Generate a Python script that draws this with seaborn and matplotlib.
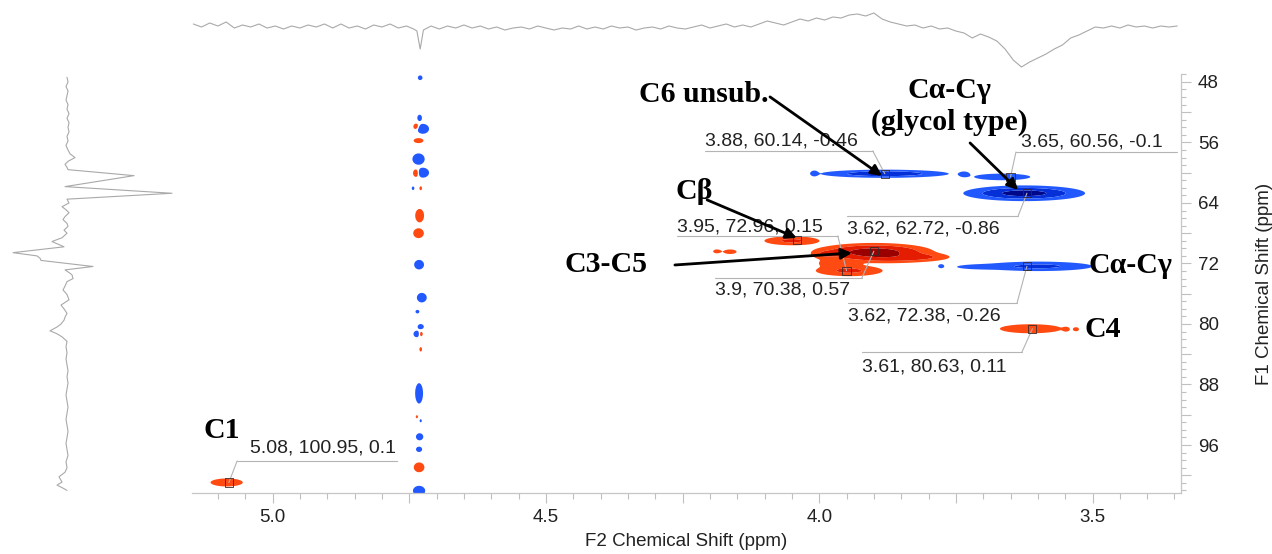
import numpy as np
import pandas as pd
import matplotlib
matplotlib.use("Agg")
import matplotlib.pyplot as plt
from matplotlib.ticker import MultipleLocator, FuncFormatter
import seaborn as sns

# ---------------- 2D HSQC cross peaks ----------------
# F2 (1H) shift, F1 (13C) shift, half-widths and signed intensity of each contour blob
peak_h = [3.880, 4.009, 3.735, 3.665, 3.625,
          4.050, 4.187, 4.163,
          3.900, 3.870, 3.815, 3.990, 3.945, 3.965,
          3.600, 3.705, 3.777,
          3.613, 3.548, 3.530,
          5.084]
peak_c = [60.14, 60.10, 60.20, 60.56, 62.72,
          69.00, 70.40, 70.45,
          70.50, 71.30, 71.15, 70.80, 72.96, 71.95,
          72.38, 72.45, 72.35,
          80.63, 80.70, 80.70,
          100.95]
peak_wh = [0.050, 0.004, 0.006, 0.033, 0.043,
           0.028, 0.005, 0.008,
           0.045, 0.040, 0.030, 0.012, 0.034, 0.022,
           0.048, 0.028, 0.004,
           0.035, 0.004, 0.004,
           0.019]
peak_wc = [0.23, 0.22, 0.22, 0.28, 0.40,
           0.33, 0.18, 0.20,
           0.50, 0.35, 0.30, 0.35, 0.40, 0.35,
           0.30, 0.20, 0.20,
           0.37, 0.20, 0.20,
           0.34]
peak_int = [-0.46, -0.12, -0.10, -0.10, -0.86,
            0.15, 0.08, 0.09,
            0.57, 0.14, 0.12, 0.10, 0.15, 0.10,
            -0.26, -0.09, -0.07,
            0.11, 0.06, 0.06,
            0.10]

# residual HDO stripe near 4.73 ppm
hdo_h = [4.730, 4.731, 4.737, 4.725, 4.733, 4.733, 4.737, 4.725, 4.743, 4.729,
         4.731, 4.733, 4.732, 4.727, 4.735, 4.729, 4.736, 4.729, 4.729, 4.732,
         4.736, 4.729, 4.731, 4.732, 4.732, 4.732]
hdo_c = [47.45, 52.76, 53.91, 54.20, 55.76, 58.20, 60.05, 60.00, 62.06, 62.06,
         65.68, 68.00, 72.16, 76.52, 78.37, 80.36, 81.32, 81.32, 83.35, 89.17,
         92.26, 92.79, 94.91, 96.57, 98.95, 102.05]
hdo_wh = [0.003, 0.003, 0.004, 0.006, 0.006, 0.006, 0.004, 0.006, 0.002, 0.002,
          0.005, 0.006, 0.005, 0.005, 0.003, 0.004, 0.004, 0.003, 0.002, 0.004,
          0.002, 0.002, 0.004, 0.004, 0.006, 0.006]
hdo_wc = [0.22, 0.30, 0.30, 0.35, 0.22, 0.40, 0.35, 0.35, 0.20, 0.22,
          0.55, 0.40, 0.35, 0.35, 0.20, 0.25, 0.28, 0.28, 0.25, 0.75,
          0.20, 0.20, 0.28, 0.25, 0.40, 0.35]
hdo_int = [-0.08, -0.08, 0.08, -0.17, 0.09, -0.17, 0.10, -0.17, -0.06, 0.06,
           0.11, 0.11, -0.15, -0.15, -0.06, -0.08, -0.10, 0.07, 0.06, -0.15,
           0.05, -0.05, -0.12, -0.08, 0.11, -0.17]

# ---------------- 1D projections ----------------
top_ppm = [5.145, 5.130, 5.115, 5.100, 5.085, 5.070, 5.055, 5.040, 5.025, 5.010,
           4.995, 4.980, 4.965, 4.950, 4.935, 4.920, 4.905, 4.890, 4.875, 4.860,
           4.845, 4.830, 4.815, 4.800, 4.785, 4.770, 4.755, 4.742, 4.736, 4.730,
           4.724, 4.710, 4.695, 4.680, 4.665, 4.650, 4.635, 4.620, 4.605, 4.590,
           4.575, 4.560, 4.545, 4.530, 4.515, 4.500, 4.485, 4.470, 4.455, 4.440,
           4.425, 4.410, 4.395, 4.380, 4.365, 4.350, 4.335, 4.320, 4.305, 4.290,
           4.275, 4.260, 4.245, 4.230, 4.215, 4.200, 4.185, 4.170, 4.155, 4.140,
           4.125, 4.110, 4.095, 4.080, 4.065, 4.050, 4.035, 4.020, 4.005, 3.990,
           3.975, 3.960, 3.945, 3.930, 3.915, 3.900, 3.885, 3.870, 3.855, 3.840,
           3.825, 3.810, 3.795, 3.780, 3.765, 3.750, 3.735, 3.720, 3.705, 3.690,
           3.675, 3.660, 3.645, 3.630, 3.615, 3.600, 3.585, 3.570, 3.555, 3.540,
           3.525, 3.510, 3.495, 3.480, 3.465, 3.450, 3.435, 3.420, 3.405, 3.390,
           3.375, 3.360, 3.345]
top_int = [3, 0, 4, 1, 5, -1, 2, 0, 3, -1,
           1, -2, 1, -1, 2, 0, 3, -1, 3, -1,
           1, -2, 2, 0, 3, -1, 1, -2, -4, -22,
           -3, 1, -2, 1, -1, 2, -1, 1, -2, 0,
           -3, -1, 0, -2, 1, -1, -3, -1, -2, 1,
           -2, 0, -2, 1, -1, 0, -3, -1, 0, -2,
           1, -1, -2, 0, 2, -1, 1, 3, 0, 2,
           0, 3, 6, 4, 2, 5, 8, 6, 9, 7,
           10, 9, 12, 13, 11, 14, 8, 5, 3, 1,
           2, -1, 1, -2, -1, -4, -6, -11, -7, -10,
           -14, -22, -33, -40, -35, -31, -27, -22, -18, -11,
           -8, -4, 0, -1, 1, -1, 2, 0, 1, -1,
           1, 0, 1]

left_ppm = [47.4, 48.0, 48.6, 49.2, 49.8, 50.4, 51.0, 51.6, 52.2, 52.8,
            53.4, 54.0, 54.6, 55.2, 55.8, 56.4, 57.0, 57.5, 58.0, 58.5,
            58.9, 59.3, 59.6, 60.39, 61.84, 62.72, 63.5, 64.0, 64.5, 64.9,
            65.3, 65.8, 66.2, 66.7, 67.1, 67.6, 68.0, 68.6, 69.1, 69.8,
            70.57, 71.0, 71.3, 71.6, 72.4, 72.85, 73.2, 73.5, 74.0, 74.4,
            75.0, 75.5, 76.1, 76.8, 77.5, 78.0, 78.6, 79.1, 79.5, 80.0,
            80.4, 80.9, 81.3, 81.7, 82.3, 83.0, 83.8, 84.6, 85.4, 86.2,
            87.0, 87.8, 88.6, 89.4, 90.2, 91.0, 91.8, 92.6, 93.4, 94.2,
            95.0, 95.8, 96.6, 97.4, 98.2, 99.0, 99.6, 100.2, 100.9, 101.3,
            101.7, 102.0]
left_int = [0, 1, -1, 1, 0, -1, 1, 0, 2, 0,
            2, 1, 2, 0, 1, -1, 1, 3, 8, 1,
            -2, 0, 1, 67, -2, 105, 0, 2, -5, -1,
            2, -2, -4, 0, 1, -3, 0, -5, -15, -3,
            -54, -30, -27, -26, 26, -2, 2, 5, 6, 0,
            -2, -4, 0, 2, -6, -3, 0, -2, -3, -6,
            -10, -17, -10, -5, 0, -1, 0, -1, 0, 1,
            0, 1, 0, -1, 0, 1, 0, -1, 0, 1,
            0, -1, 0, 1, -1, 0, -2, -8, -5, -10,
            -4, 0]

# ---------------- picked peaks (box markers + value tags) ----------------
box_h = [3.88, 3.65, 3.62, 3.95, 3.90, 3.62, 3.61, 5.08]
box_c = [60.14, 60.56, 62.72, 72.96, 70.38, 72.38, 80.63, 100.95]
box_v = [-0.46, -0.1, -0.86, 0.15, 0.57, -0.26, 0.11, 0.1]
# tag text anchor, rule line and the rule end joined to the box
tag_h = [4.209, 3.630, 3.949, 4.260, 4.191, 3.947, 3.922, 5.042]
tag_c = [55.80, 55.93, 67.44, 67.17, 75.50, 78.94, 85.69, 96.40]
rule_c = [57.12, 57.26, 65.72, 68.36, 73.92, 77.22, 83.70, 98.12]
rule_h0 = [4.209, 3.640, 3.949, 4.260, 4.191, 3.947, 3.922, 5.065]
rule_h1 = [3.902, 3.346, 3.636, 3.966, 3.922, 3.638, 3.629, 4.773]
rule_join = [1, 0, 1, 1, 1, 1, 1, 0]
extra_box_h = [4.04]
extra_box_c = [68.95]

# assignment labels
asg_text = ["C6 unsub.", "Cα-Cγ\n(glycol type)", "Cβ", "C3-C5", "Cα-Cγ", "C4", "C1"]
asg_h = [4.211, 3.761, 4.229, 4.390, 3.508, 3.514, 5.093]
asg_c = [49.72, 51.31, 62.55, 72.20, 72.33, 80.79, 94.02]
asg_ha = ["center", "center", "center", "center", "left", "left", "center"]
arrow_from_h = [4.090, 3.724, 4.205, 4.264]
arrow_from_c = [49.98, 56.07, 63.60, 72.20]
arrow_to_h = [3.885, 3.636, 4.041, 3.940]
arrow_to_c = [60.43, 62.28, 68.63, 70.61]

XLIM = (5.148, 3.338)
YLIM = (102.3, 47.0)

sns.set_theme(style="white")
plt.rcParams["font.family"] = ["Liberation Sans", "DejaVu Sans"]

fig = plt.figure(figsize=(12.72, 5.54), dpi=100)
ax = fig.add_axes([0.1507, 0.1107, 0.7778, 0.7551])
ax_top = fig.add_axes([0.1507, 0.870, 0.7778, 0.1264])
ax_left = fig.add_axes([0.0, 0.1107, 0.1494, 0.7551])

# build the 2D surface from the peak table
gh = np.linspace(5.15, 3.33, 1600)
gc = np.linspace(46.8, 102.6, 800)
Z = np.zeros((gc.size, gh.size))
all_h = peak_h + hdo_h
all_c = peak_c + hdo_c
all_wh = peak_wh + hdo_wh
all_wc = peak_wc + hdo_wc
all_i = peak_int + hdo_int
for h0, c0, wh, wc, amp in zip(all_h, all_c, all_wh, all_wc, all_i):
    gx = np.exp(-0.5 * ((gh - h0) / wh) ** 2)
    gy = np.exp(-0.5 * ((gc - c0) / wc) ** 2)
    Z += amp * np.outer(gy, gx)

ax.contourf(gh, gc, Z, levels=[0.03, 0.12, 0.35, 10],
            colors=["#ff4a12", "#e41c00", "#9a0000"], antialiased=True)
ax.contourf(gh, gc, Z, levels=[-10, -0.55, -0.18, -0.03],
            colors=["#00088a", "#0530d8", "#2259ff"], antialiased=True)

# box markers of picked peaks
boxes = pd.DataFrame({"h": box_h + extra_box_h, "c": box_c + extra_box_c})
sns.scatterplot(data=boxes, x="h", y="c", marker="s", s=34, facecolor="none",
                edgecolor="#3a2a2a", linewidth=0.6, ax=ax, zorder=4, legend=False)

# value tags with rule and leader
tag_font = dict(fontsize=14, color="#222222", family=["Liberation Sans", "DejaVu Sans"])
for i in range(len(box_h)):
    txt = f"{box_h[i]:g}, {box_c[i]:g}, {box_v[i]:g}"
    ax.text(tag_h[i], tag_c[i], txt, ha="left", va="center", zorder=5, **tag_font)
    ax.plot([rule_h0[i], rule_h1[i]], [rule_c[i], rule_c[i]], color="#b4b4b4", lw=0.8, zorder=3)
    jh = rule_h1[i] if rule_join[i] else rule_h0[i]
    ax.plot([jh, box_h[i]], [rule_c[i], box_c[i]], color="#b4b4b4", lw=0.8, zorder=3)

# assignment labels and arrows
serif = dict(fontsize=21.5, fontweight="bold", color="black",
             family=["Liberation Serif", "DejaVu Serif"])
for t, h, c, ha in zip(asg_text, asg_h, asg_c, asg_ha):
    ax.text(h, c, t, ha=ha, va="center", linespacing=1.22, zorder=6, **serif)
for h0, c0, h1, c1 in zip(arrow_from_h, arrow_from_c, arrow_to_h, arrow_to_c):
    ax.annotate("", xy=(h1, c1), xytext=(h0, c0), zorder=6,
                arrowprops=dict(arrowstyle="-|>", lw=2.0, color="black",
                                mutation_scale=16, shrinkA=0, shrinkB=0))

ax.set_xlim(*XLIM)
ax.set_ylim(*YLIM)
for side in ["top", "left"]:
    ax.spines[side].set_visible(False)
for side in ["bottom", "right"]:
    ax.spines[side].set_color("#c6c6c6")
    ax.spines[side].set_linewidth(0.9)

ax.xaxis.set_major_locator(MultipleLocator(0.25))
ax.xaxis.set_minor_locator(MultipleLocator(0.05))
ax.xaxis.set_major_formatter(FuncFormatter(
    lambda v, p: f"{v:.1f}" if abs(v * 2 - round(v * 2)) < 1e-6 else ""))
ax.yaxis.tick_right()
ax.yaxis.set_label_position("right")
ax.yaxis.set_major_locator(MultipleLocator(4))
ax.yaxis.set_minor_locator(MultipleLocator(1))
ax.yaxis.set_major_formatter(FuncFormatter(
    lambda v, p: f"{v:.0f}" if round(v) % 8 == 0 else ""))
ax.tick_params(axis="x", which="both", bottom=True, top=False, color="#c0c0c0",
               width=0.8, labelsize=13.5, labelcolor="#222222")
ax.tick_params(axis="x", which="major", length=7, pad=4.5)
ax.tick_params(axis="x", which="minor", length=4)
ax.tick_params(axis="y", which="both", right=True, left=False, labelright=True,
               labelleft=False, color="#c0c0c0", width=0.8, labelsize=13.5,
               labelcolor="#222222")
ax.tick_params(axis="y", which="major", length=7, pad=5)
ax.tick_params(axis="y", which="minor", length=3.5)
ax.set_xlabel("F2 Chemical Shift (ppm)", fontsize=13.5, color="#222222", labelpad=5)
ax.set_ylabel("F1 Chemical Shift (ppm)", fontsize=13.5, color="#222222", labelpad=27)
ax.grid(False)

# projections
top_df = pd.DataFrame({"ppm": top_ppm, "intensity": top_int})
sns.lineplot(data=top_df, x="ppm", y="intensity", ax=ax_top, color="#a9a9a9",
             lw=0.8, estimator=None, sort=False)
ax_top.set_xlim(*XLIM)
ax_top.set_ylim(-45, 25)
ax_top.axis("off")

left_df = pd.DataFrame({"ppm": left_ppm, "intensity": left_int})
sns.lineplot(data=left_df, x="intensity", y="ppm", ax=ax_left, color="#a9a9a9",
             lw=0.8, estimator=None, sort=False, orient="y")
ax_left.set_ylim(*YLIM)
ax_left.set_xlim(-67, 123)
ax_left.axis("off")

fig.savefig("out.png", dpi=100)
